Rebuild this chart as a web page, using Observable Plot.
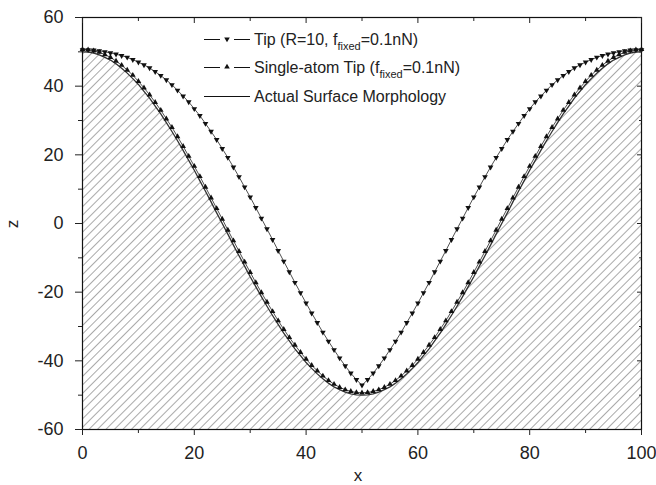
<!DOCTYPE html>
<html><head><meta charset="utf-8">
<script src="https://cdn.jsdelivr.net/npm/d3@7"></script>
<script src="https://cdn.jsdelivr.net/npm/@observablehq/plot@0.6"></script>
<style>body{margin:0;background:#fff} svg{font-family:"Liberation Sans",Arial,sans-serif}</style>
</head><body><div id="chart"></div>
<script>
const xValues = d3.range(0, 101);
const surface = [50, 49.9, 49.6, 49.1, 48.4, 47.6, 46.5, 45.2, 43.8, 42.2, 40.5, 38.5, 36.5, 34.2, 31.9, 29.4, 26.8, 24.1, 21.3, 18.4, 15.5, 12.4, 9.4, 6.3, 3.1, 0, -3.1, -6.3, -9.4, -12.4, -15.5, -18.4, -21.3, -24.1, -26.8, -29.4, -31.9, -34.2, -36.5, -38.5, -40.5, -42.2, -43.8, -45.2, -46.5, -47.6, -48.4, -49.1, -49.6, -49.9, -50,
 -49.9, -49.6, -49.1, -48.4, -47.6, -46.5, -45.2, -43.8, -42.2, -40.5, -38.5, -36.5, -34.2, -31.9, -29.4, -26.8, -24.1, -21.3, -18.4, -15.5, -12.4, -9.4, -6.3, -3.1, 0, 3.1, 6.3, 9.4, 12.4, 15.5, 18.4, 21.3, 24.1, 26.8, 29.4, 31.9, 34.2, 36.5, 38.5, 40.5, 42.2, 43.8, 45.2, 46.5, 47.6, 48.4, 49.1, 49.6, 49.9, 50];
const singleAtom = [50.7, 50.6, 50.3, 49.9, 49.2, 48.4, 47.3, 46.1, 44.7, 43.2, 41.4, 39.5, 37.5, 35.3, 33.0, 30.5, 28.0, 25.3, 22.5, 19.6, 16.7, 13.7, 10.6, 7.5, 4.4, 1.3, -1.9, -5.0, -8.1, -11.2, -14.2, -17.2, -20.1, -22.9, -25.6, -28.3, -30.8, -33.2, -35.4, -37.5, -39.5, -41.3, -42.9, -44.4, -45.7, -46.8, -47.7, -48.4, -48.9, -49.2, -49.3,
 -49.2, -48.9, -48.4, -47.7, -46.8, -45.7, -44.4, -42.9, -41.3, -39.5, -37.5, -35.4, -33.2, -30.8, -28.3, -25.6, -22.9, -20.1, -17.2, -14.2, -11.2, -8.1, -5.0, -1.9, 1.3, 4.4, 7.5, 10.6, 13.7, 16.7, 19.6, 22.5, 25.3, 28.0, 30.5, 33.0, 35.3, 37.5, 39.5, 41.4, 43.2, 44.7, 46.1, 47.3, 48.4, 49.2, 49.9, 50.3, 50.6, 50.7];
const tipR10 = [50.6, 50.6, 50.5, 50.3, 50.0, 49.7, 49.3, 48.9, 48.4, 47.7, 47.0, 46.2, 45.3, 44.2, 43.1, 41.8, 40.4, 38.8, 37.1, 35.4, 33.4, 31.4, 29.1, 26.8, 24.4, 21.8, 19.2, 16.4, 13.6, 10.6, 7.7, 4.6, 1.5, -1.6, -4.7, -7.9, -11.0, -14.1, -17.2, -20.2, -23.2, -26.1, -28.9, -31.7, -34.3, -36.8, -39.2, -41.5, -43.6, -45.5, -47.1,
 -45.5, -43.6, -41.5, -39.2, -36.8, -34.3, -31.7, -28.9, -26.1, -23.2, -20.2, -17.2, -14.1, -11.0, -7.9, -4.7, -1.6, 1.5, 4.6, 7.7, 10.6, 13.6, 16.4, 19.2, 21.8, 24.4, 26.8, 29.1, 31.4, 33.4, 35.4, 37.1, 38.8, 40.4, 41.8, 43.1, 44.2, 45.3, 46.2, 47.0, 47.7, 48.4, 48.9, 49.3, 49.7, 50.0, 50.3, 50.5, 50.6, 50.6];
const xTicks = [0, 20, 40, 60, 80, 100];
const xMinor = [10, 30, 50, 70, 90];
const yTicks = [-60, -40, -20, 0, 20, 40, 60];
const yMinor = [-50, -30, -10, 10, 30, 50];

const rows = xValues.map((x, i) => ({x, surface: surface[i], single: singleAtom[i], tip: tipR10[i]}));

const triDown = {
  draw(ctx, size) {
    const s = Math.sqrt(size * 4 / Math.sqrt(3));
    const h = s * Math.sqrt(3) / 2;
    ctx.moveTo(-s / 2, -h / 3);
    ctx.lineTo(s / 2, -h / 3);
    ctx.lineTo(0, 2 * h / 3);
    ctx.closePath();
  }
};
const blank = () => "";
const plain = d => String(d);

const chart = Plot.plot({
  width: 656, height: 485,
  marginLeft: 82, marginRight: 15, marginTop: 17, marginBottom: 56,
  style: {fontFamily: "Liberation Sans, Arial, sans-serif", fontSize: "17px", color: "#222", background: "#fff"},
  x: {domain: [0, 100]},
  y: {domain: [-60, 60]},
  marks: [
    Plot.areaY(rows, {x: "x", y1: -60, y2: "surface", fill: "url(#hatch)"}),
    Plot.line(rows, {x: "x", y: "surface", stroke: "#333", strokeWidth: 1.3}),
    Plot.line(rows, {x: "x", y: "single", stroke: "#222", strokeWidth: 0.8}),
    Plot.dot(rows, {x: "x", y: "single", symbol: "triangle", r: 2.1, fill: "#111"}),
    Plot.line(rows, {x: "x", y: "tip", stroke: "#222", strokeWidth: 0.8}),
    Plot.dot(rows, {x: "x", y: "tip", symbol: triDown, r: 2.1, fill: "#111"}),
    Plot.frame({stroke: "#111", strokeWidth: 1.2}),
    Plot.axisX({ticks: xTicks, tickSize: 6, tickPadding: 11, tickFormat: plain, label: null, fontSize: 18}),
    Plot.axisX({ticks: xMinor, tickSize: 4, tickFormat: blank, label: null}),
    Plot.axisX({anchor: "top", ticks: xTicks, tickSize: -5, tickFormat: blank, label: null}),
    Plot.axisX({anchor: "top", ticks: xMinor, tickSize: -3, tickFormat: blank, label: null}),
    Plot.axisY({ticks: yTicks, tickSize: 7, tickPadding: 12, tickFormat: plain, label: null, fontSize: 18}),
    Plot.axisY({ticks: yMinor, tickSize: 4, tickFormat: blank, label: null}),
    Plot.axisY({anchor: "right", ticks: yTicks, tickSize: -5, tickFormat: blank, label: null}),
    Plot.axisY({anchor: "right", ticks: yMinor, tickSize: -3, tickFormat: blank, label: null})
  ]
});

const svg = d3.select(chart);
const defs = svg.insert("defs", ":first-child");
const pat = defs.append("pattern").attr("id", "hatch").attr("patternUnits", "userSpaceOnUse")
  .attr("width", 6).attr("height", 6).attr("patternTransform", "rotate(45)");
pat.append("line").attr("x1", 0).attr("y1", -1).attr("x2", 0).attr("y2", 7)
  .attr("stroke", "#6e6e6e").attr("stroke-width", 1.2);

// axis titles
svg.append("text").attr("x", 358).attr("y", 481).attr("text-anchor", "middle")
  .attr("font-size", 17).attr("fill", "#222").text("x");
svg.append("text").attr("transform", "translate(18,224) rotate(-90)").attr("text-anchor", "middle")
  .attr("font-size", 17).attr("fill", "#222").text("z");

// legend
const lg = svg.append("g").attr("font-size", 16).attr("fill", "#222").attr("text-anchor", "start");
const entries = [
  {y: 39, sym: "down", parts: ["Tip (R=10, f", "fixed", "=0.1nN)"]},
  {y: 67, sym: "up", parts: ["Single-atom Tip (f", "fixed", "=0.1nN)"]},
  {y: 96, sym: null, parts: ["Actual Surface Morphology"]}
];
entries.forEach(e => {
  const ly = e.y + 0.5;
  if (e.sym) {
    lg.append("line").attr("x1", 204).attr("x2", 220).attr("y1", ly).attr("y2", ly).attr("stroke", "#111");
    lg.append("line").attr("x1", 234).attr("x2", 250).attr("y1", ly).attr("y2", ly).attr("stroke", "#111");
    const p = e.sym === "down" ? "M-2.8,-1.6L2.8,-1.6L0,3.2Z" : "M-2.8,1.6L2.8,1.6L0,-3.2Z";
    lg.append("path").attr("d", p).attr("transform", `translate(227,${e.y})`).attr("fill", "#111");
  } else {
    lg.append("line").attr("x1", 204).attr("x2", 250).attr("y1", ly).attr("y2", ly).attr("stroke", "#111").attr("stroke-width", 1);
  }
  const t = lg.append("text").attr("x", 254).attr("y", e.y).attr("dy", "0.36em");
  t.append("tspan").text(e.parts[0]);
  if (e.parts.length > 1) {
    t.append("tspan").attr("font-size", 11).attr("dy", 5).text(e.parts[1]);
    t.append("tspan").attr("dy", -5).text(e.parts[2]);
  }
});

document.getElementById("chart").appendChild(chart);
</script>
</body></html>
